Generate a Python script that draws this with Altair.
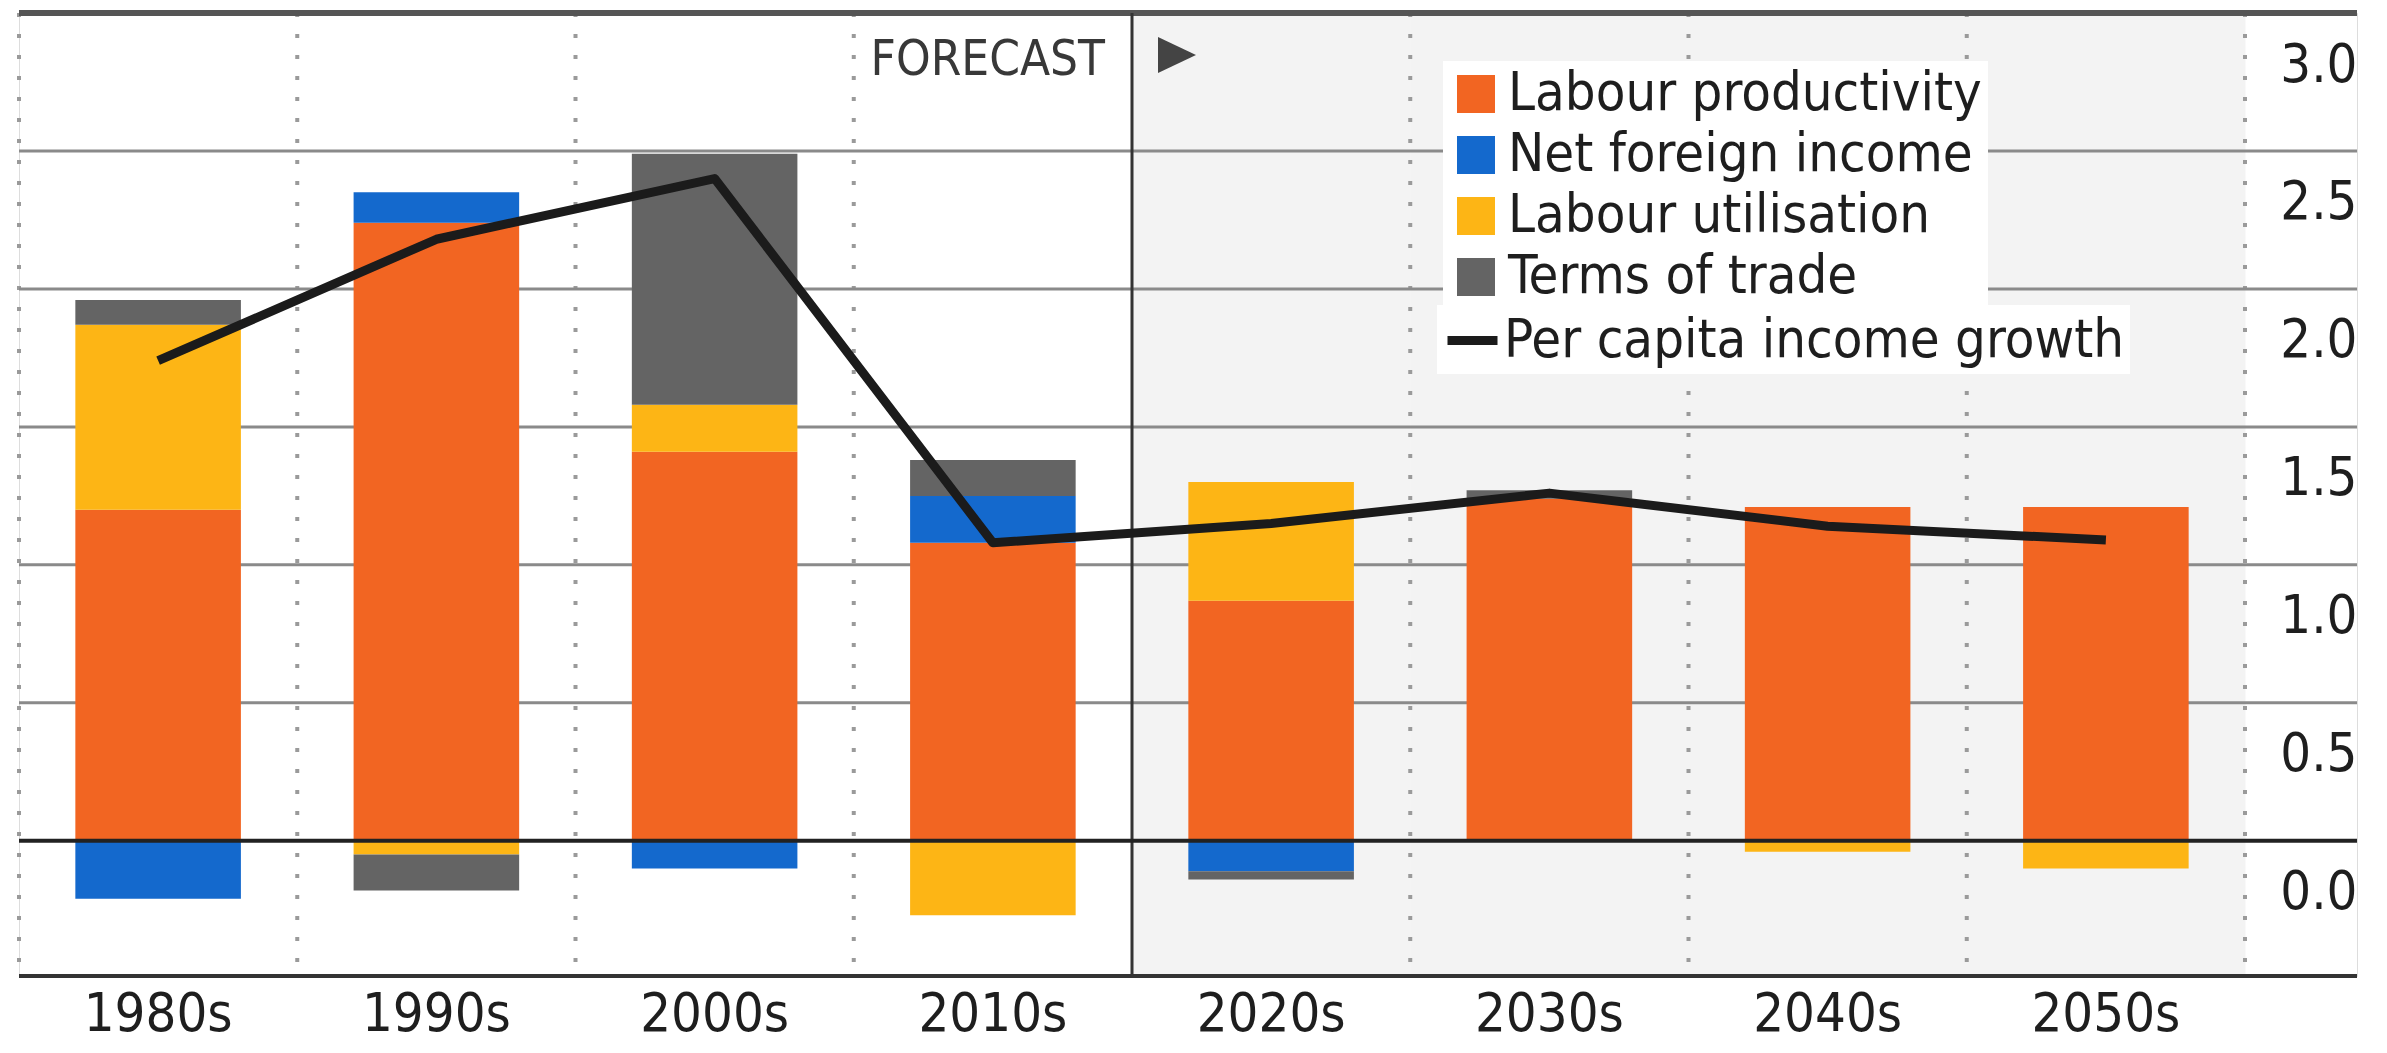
import altair as alt
import pandas as pd

# ---------------- data ----------------
decades = ["1980s", "1990s", "2000s", "2010s", "2020s", "2030s", "2040s", "2050s"]
series_names = ["Labour productivity", "Net foreign income", "Labour utilisation", "Terms of trade"]
labour_productivity = [1.20, 2.24, 1.41, 1.08, 0.87, 1.24, 1.21, 1.21]
net_foreign_income = [-0.21, 0.11, -0.10, 0.17, -0.11, 0.0, 0.0, 0.0]
labour_utilisation = [0.67, -0.05, 0.17, -0.27, 0.43, 0.0, -0.04, -0.10]
terms_of_trade = [0.09, -0.13, 0.91, 0.13, -0.03, 0.03, 0.0, 0.0]
line_name = "Per capita income growth"
per_capita_growth = [1.74, 2.18, 2.40, 1.08, 1.15, 1.26, 1.14, 1.09]
forecast_decades = ["2020s", "2030s", "2040s", "2050s"]
y_tick_values = [0.0, 0.5, 1.0, 1.5, 2.0, 2.5, 3.0]
grid_values = [0.5, 1.0, 1.5, 2.0, 2.5]

series_colors = ["#F26522", "#1469CD", "#FDB515", "#646464"]

rows = []
for i, (name, vals) in enumerate(zip(series_names, [labour_productivity, net_foreign_income,
                                                     labour_utilisation, terms_of_trade])):
    for d, v in zip(decades, vals):
        rows.append({"decade": d, "series": name, "value": v, "order": i})
bars_df = pd.DataFrame(rows)
line_df = pd.DataFrame({"decade": decades, "growth": per_capita_growth, "label": line_name})

# ---------------- layout ----------------
W, H = 2338, 963
BAND_RANGE = 2226
N = len(decades)
P_IN = 0.405
STEP = BAND_RANGE / N
HALF_GAP = P_IN * STEP / 2
Y_MIN, Y_MAX = -0.49, 3.0
FONT = "DejaVu Sans Condensed, Roboto, sans-serif"
TXT = "#1e1e1e"

xscale = alt.Scale(domain=decades, range=[0, BAND_RANGE], paddingInner=P_IN, paddingOuter=P_IN / 2)
yscale = alt.Scale(domain=[Y_MIN, Y_MAX], nice=False, zero=False)

AX_X = alt.Axis(labelFontSize=54, labelFont=FONT, labelColor=TXT, labelPadding=54,
                labelBaseline="alphabetic", labelAngle=0, ticks=False, domain=False,
                grid=False, title=None)
AX_Y = alt.Axis(orient="right", values=y_tick_values, format=".1f", labelAlign="right",
                labelPadding=0, labelOffset=68, labelBaseline="alphabetic",
                labelFontSize=54, labelFont=FONT, labelColor=TXT, ticks=False,
                domain=False, grid=False, labelOverlap=False, title=None)


def xenc(field="decade", bp=None):
    if bp is None:
        return alt.X(f"{field}:N", scale=xscale, axis=AX_X)
    return alt.X(f"{field}:N", scale=xscale, axis=AX_X, bandPosition=bp)


def yenc(field, **kw):
    return alt.Y(f"{field}:Q", scale=yscale, axis=AX_Y, **kw)


# forecast background
bg = alt.Chart(pd.DataFrame({"decade": forecast_decades, "lo": Y_MIN, "hi": Y_MAX})).mark_bar(
    color="#f3f3f3", stroke="#f3f3f3", strokeWidth=1, width=alt.RelativeBandSize(1 / (1 - P_IN))
).encode(x=xenc(), y=yenc("lo"), y2="hi:Q")

# dotted vertical separators
sep_left = alt.Chart(pd.DataFrame({"decade": [d for d in decades if d != "2020s"]})).mark_rule(
    color="#9a9a9a", strokeWidth=4, strokeDash=[4, 17], xOffset=-HALF_GAP
).encode(x=xenc(bp=0))
sep_right = alt.Chart(pd.DataFrame({"decade": [decades[-1]]})).mark_rule(
    color="#9a9a9a", strokeWidth=4, strokeDash=[4, 17], xOffset=HALF_GAP
).encode(x=xenc(bp=1))

# horizontal gridlines
grid = alt.Chart(pd.DataFrame({"v": grid_values})).mark_rule(color="#8a8a8a", strokeWidth=3).encode(
    y=yenc("v"))
top_line = alt.Chart(pd.DataFrame({"v": [Y_MAX]})).mark_rule(color="#555555", strokeWidth=6).encode(
    y=yenc("v"))
bottom_line = alt.Chart(pd.DataFrame({"v": [Y_MIN]})).mark_rule(color="#333333", strokeWidth=4).encode(
    y=yenc("v"))
zero_line = alt.Chart(pd.DataFrame({"v": [0.0]})).mark_rule(color="#222222", strokeWidth=4).encode(
    y=yenc("v"))

forecast_line = alt.Chart(pd.DataFrame({"decade": ["2020s"]})).mark_rule(
    color="#333333", strokeWidth=3, xOffset=-HALF_GAP
).encode(x=xenc(bp=0))

bars = alt.Chart(bars_df).mark_bar().encode(
    x=xenc(),
    y=yenc("value", stack="zero"),
    color=alt.Color("series:N", scale=alt.Scale(domain=series_names, range=series_colors),
                    legend=alt.Legend(title=None, orient="none", legendX=1424, legendY=48,
                                      symbolType="square", symbolSize=1444, symbolStrokeWidth=0,
                                      labelFontSize=54, labelFont=FONT, labelColor=TXT,
                                      labelOffset=5, rowPadding=7, padding=6, fillColor="white",
                                      labelLimit=2000)),
    order=alt.Order("order:Q"),
)

line = alt.Chart(line_df).mark_line(strokeWidth=9, strokeJoin="round").encode(
    x=xenc(),
    y=yenc("growth"),
    stroke=alt.Stroke("label:N", scale=alt.Scale(domain=[line_name], range=["#1b1b1b"]),
                      legend=alt.Legend(title=None, orient="none", legendX=1418, legendY=292,
                                        symbolType="stroke", symbolSize=2500, symbolStrokeWidth=9,
                                        labelFontSize=54, labelFont=FONT, labelColor=TXT,
                                        labelOffset=2, padding=6, fillColor="white",
                                        labelLimit=2000)),
)

ann_df = pd.DataFrame({"decade": ["2020s"], "t": ["FORECAST"]})
forecast_text = alt.Chart(ann_df).mark_text(
    align="right", baseline="alphabetic", fontSize=49, font=FONT, color="#383838",
    xOffset=-HALF_GAP - 27
).encode(x=xenc(bp=0), y=alt.value(62), text="t:N")
triangle = alt.Chart(ann_df).mark_point(
    shape="M-1,-0.95L1,0L-1,0.95Z", filled=True, size=1444, color="#444444", opacity=1,
    xOffset=-HALF_GAP + 45
).encode(x=xenc(bp=0), y=alt.value(42))

chart = alt.layer(
    bg, sep_left, sep_right, grid, top_line, bottom_line, forecast_line,
    bars, zero_line, line, forecast_text, triangle
).properties(
    width=W, height=H,
    padding={"left": 8, "top": 2, "right": 10, "bottom": 6},
).configure_view(stroke="transparent").configure(background="white")

chart.save("out.html", embed_options={"renderer": "svg", "actions": False})
